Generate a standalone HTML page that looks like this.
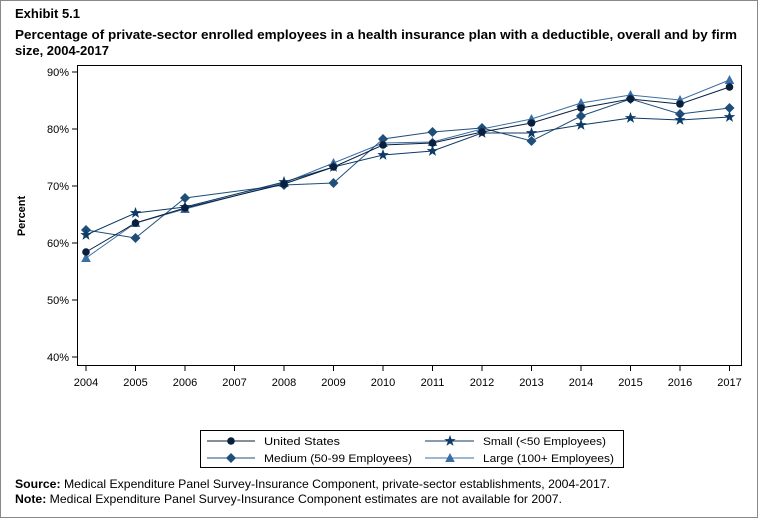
<!DOCTYPE html>
<html><head><style>
body{margin:0;background:#fff;}
svg{display:block;font-family:"Liberation Sans",Arial,sans-serif;}
</style></head><body>
<svg width="758" height="518" viewBox="0 0 758 518" xmlns="http://www.w3.org/2000/svg">
<rect x="0.5" y="0.5" width="757" height="517" fill="#fff" stroke="#888"/>
<text x="15" y="18" font-size="13" font-weight="bold">Exhibit 5.1</text>
<text x="15" y="39" font-size="13" font-weight="bold" textLength="722" lengthAdjust="spacingAndGlyphs">Percentage of private-sector enrolled employees in a health insurance plan with a deductible, overall and by firm</text>
<text x="15" y="55" font-size="13" font-weight="bold">size, 2004-2017</text>
<rect x="77.5" y="65.5" width="664" height="300" fill="none" stroke="#000"/>
<g stroke="#000">
<line x1="72" y1="72" x2="77" y2="72"/><line x1="72" y1="129" x2="77" y2="129"/><line x1="72" y1="186" x2="77" y2="186"/><line x1="72" y1="243" x2="77" y2="243"/><line x1="72" y1="300" x2="77" y2="300"/><line x1="72" y1="357" x2="77" y2="357"/>
</g>
<g font-size="11" text-anchor="end">
<text x="69" y="76">90%</text><text x="69" y="133">80%</text><text x="69" y="190">70%</text><text x="69" y="247">60%</text><text x="69" y="304">50%</text><text x="69" y="361">40%</text>
</g>
<text transform="translate(25,216) rotate(-90)" font-size="11" font-weight="bold" text-anchor="middle">Percent</text>
<g stroke="#000">
<line x1="86" y1="366" x2="86" y2="371"/><line x1="135.5" y1="366" x2="135.5" y2="371"/><line x1="185" y1="366" x2="185" y2="371"/><line x1="234.5" y1="366" x2="234.5" y2="371"/><line x1="284" y1="366" x2="284" y2="371"/><line x1="333.5" y1="366" x2="333.5" y2="371"/><line x1="383" y1="366" x2="383" y2="371"/><line x1="432.5" y1="366" x2="432.5" y2="371"/><line x1="482" y1="366" x2="482" y2="371"/><line x1="531.5" y1="366" x2="531.5" y2="371"/><line x1="581" y1="366" x2="581" y2="371"/><line x1="630.5" y1="366" x2="630.5" y2="371"/><line x1="680" y1="366" x2="680" y2="371"/><line x1="729.5" y1="366" x2="729.5" y2="371"/>
</g>
<g font-size="11" text-anchor="middle">
<text x="86" y="386">2004</text><text x="135.5" y="386">2005</text><text x="185" y="386">2006</text><text x="234.5" y="386">2007</text><text x="284" y="386">2008</text><text x="333.5" y="386">2009</text><text x="383" y="386">2010</text><text x="432.5" y="386">2011</text><text x="482" y="386">2012</text><text x="531.5" y="386">2013</text><text x="581" y="386">2014</text><text x="630.5" y="386">2015</text><text x="680" y="386">2016</text><text x="729.5" y="386">2017</text>
</g>
<defs>
<circle id="c" r="3.8" fill="#0a1f3c"/>
<path id="d" d="M0,-5L5,0L0,5L-5,0Z" fill="#1f4e79"/>
<path id="t" d="M0,-5L4.8,4L-4.8,4Z" fill="#3b6ea5"/>
<path id="s" d="M0,-6L1.5,-1.9L5.7,-1.9L2.3,0.7L3.5,4.9L0,2.4L-3.5,4.9L-2.3,0.7L-5.7,-1.9L-1.5,-1.9Z" fill="#0d3a66"/>
</defs>
<g fill="none" stroke-width="1">
<polyline stroke="#3b6ea5" points="86,258 135.5,223 185,209 284,183 333.5,163 383,143 432.5,142 482,129 531.5,119 581,103 630.5,95 680,100 729.5,80"/>
<polyline stroke="#1f4e79" points="86,230 135.5,238 185,198 284,185 333.5,183 383,139 432.5,132 482,128 531.5,141 581,116 630.5,99 680,114 729.5,108"/>
<polyline stroke="#0d3a66" points="86,235 135.5,213 185,207 284,182 333.5,167 383,155 432.5,151 482,133 531.5,133 581,125 630.5,118 680,120 729.5,117"/>
<polyline stroke="#0a1f3c" points="86,252 135.5,223 185,208 284,184 333.5,167 383,145 432.5,143 482,132 531.5,123 581,108 630.5,99 680,104 729.5,87"/>
</g>
<g>
<use href="#t" x="86" y="258"/><use href="#t" x="135.5" y="223"/><use href="#t" x="185" y="209"/><use href="#t" x="284" y="183"/><use href="#t" x="333.5" y="163"/><use href="#t" x="383" y="143"/><use href="#t" x="432.5" y="142"/><use href="#t" x="482" y="129"/><use href="#t" x="531.5" y="119"/><use href="#t" x="581" y="103"/><use href="#t" x="630.5" y="95"/><use href="#t" x="680" y="100"/><use href="#t" x="729.5" y="80"/>
<use href="#d" x="86" y="230"/><use href="#d" x="135.5" y="238"/><use href="#d" x="185" y="198"/><use href="#d" x="284" y="185"/><use href="#d" x="333.5" y="183"/><use href="#d" x="383" y="139"/><use href="#d" x="432.5" y="132"/><use href="#d" x="482" y="128"/><use href="#d" x="531.5" y="141"/><use href="#d" x="581" y="116"/><use href="#d" x="630.5" y="99"/><use href="#d" x="680" y="114"/><use href="#d" x="729.5" y="108"/>
<use href="#s" x="86" y="235"/><use href="#s" x="135.5" y="213"/><use href="#s" x="185" y="207"/><use href="#s" x="284" y="182"/><use href="#s" x="333.5" y="167"/><use href="#s" x="383" y="155"/><use href="#s" x="432.5" y="151"/><use href="#s" x="482" y="133"/><use href="#s" x="531.5" y="133"/><use href="#s" x="581" y="125"/><use href="#s" x="630.5" y="118"/><use href="#s" x="680" y="120"/><use href="#s" x="729.5" y="117"/>
<use href="#c" x="86" y="252"/><use href="#c" x="135.5" y="223"/><use href="#c" x="185" y="208"/><use href="#c" x="284" y="184"/><use href="#c" x="333.5" y="167"/><use href="#c" x="383" y="145"/><use href="#c" x="432.5" y="143"/><use href="#c" x="482" y="132"/><use href="#c" x="531.5" y="123"/><use href="#c" x="581" y="108"/><use href="#c" x="630.5" y="99"/><use href="#c" x="680" y="104"/><use href="#c" x="729.5" y="87"/>
</g>
<rect x="200.5" y="430.5" width="423" height="37" fill="none" stroke="#000"/>
<line x1="207" y1="441" x2="255" y2="441" stroke="#0a1f3c"/><use href="#c" x="231" y="441"/>
<line x1="207" y1="458" x2="255" y2="458" stroke="#1f4e79"/><use href="#d" x="231" y="458"/>
<line x1="425" y1="441" x2="474" y2="441" stroke="#0d3a66"/><use href="#s" x="450" y="441"/>
<line x1="425" y1="458" x2="474" y2="458" stroke="#3b6ea5"/><use href="#t" x="450" y="458"/>
<g font-size="11">
<text x="264" y="445" textLength="76" lengthAdjust="spacingAndGlyphs">United States</text>
<text x="264" y="462" textLength="148" lengthAdjust="spacingAndGlyphs">Medium (50-99 Employees)</text>
<text x="483" y="445" textLength="123" lengthAdjust="spacingAndGlyphs">Small (&lt;50 Employees)</text>
<text x="483" y="462" textLength="131" lengthAdjust="spacingAndGlyphs">Large (100+ Employees)</text>
</g>
<text x="15" y="488" font-size="12" textLength="595" lengthAdjust="spacingAndGlyphs"><tspan font-weight="bold">Source:</tspan> Medical Expenditure Panel Survey-Insurance Component, private-sector establishments, 2004-2017.</text>
<text x="15" y="503" font-size="12" textLength="547" lengthAdjust="spacingAndGlyphs"><tspan font-weight="bold">Note:</tspan> Medical Expenditure Panel Survey-Insurance Component estimates are not available for 2007.</text>
</svg>
</body></html>
